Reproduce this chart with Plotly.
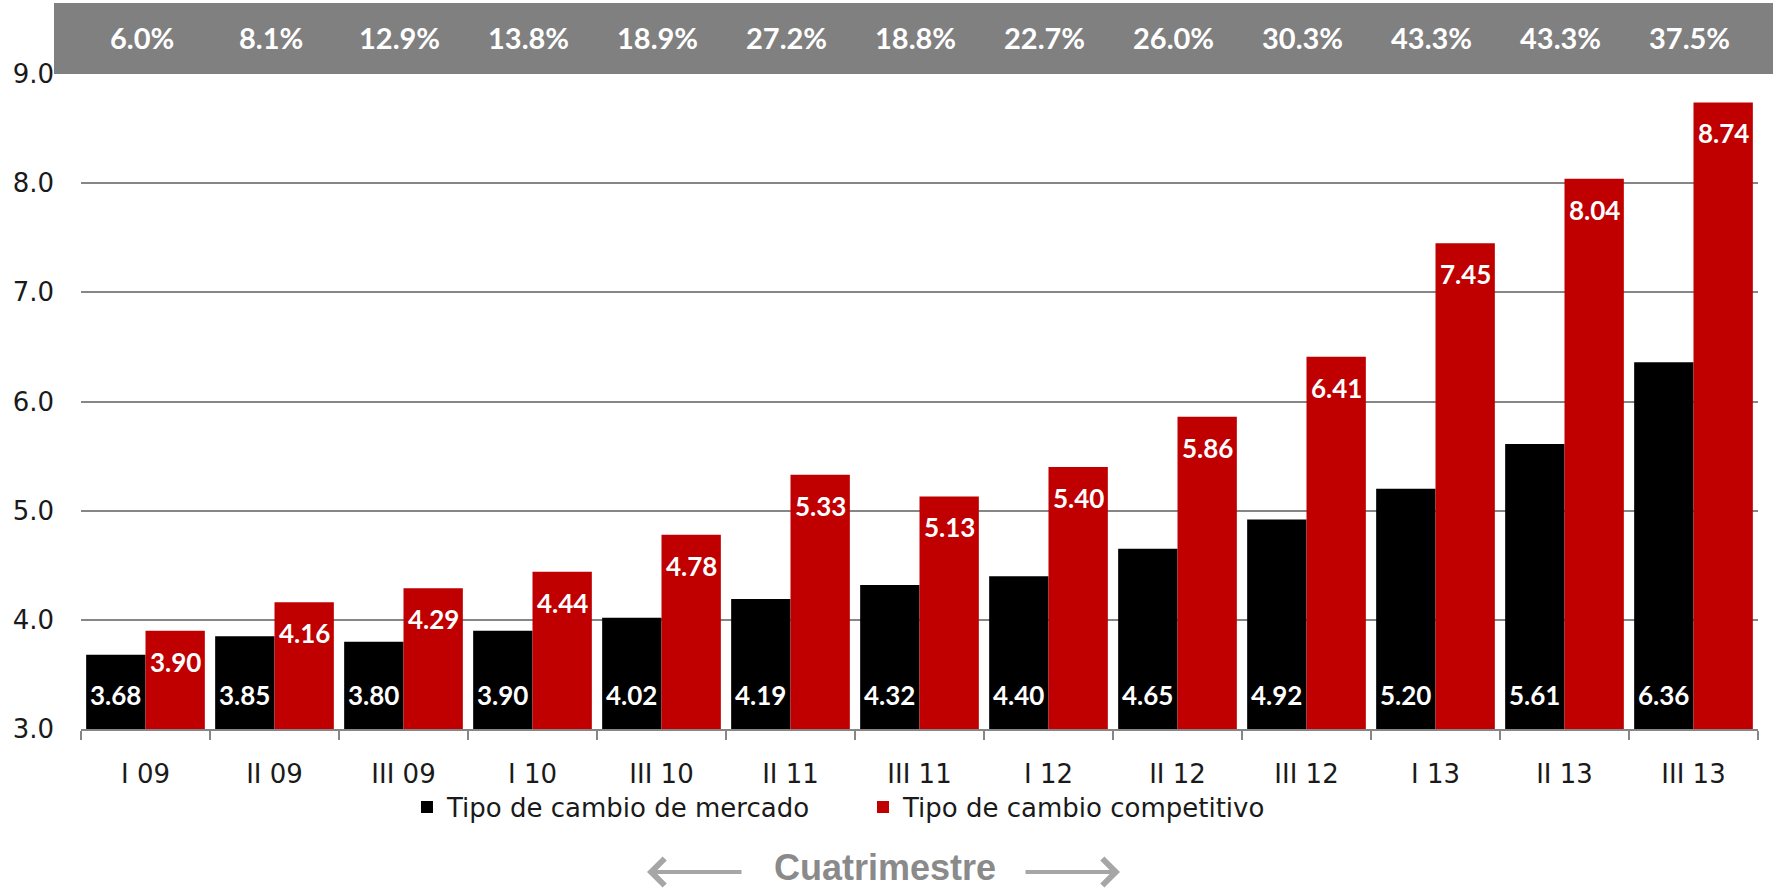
import plotly.graph_objects as go

categories = ["I 09", "II 09", "III 09", "I 10", "III 10", "II 11", "III 11",
              "I 12", "II 12", "III 12", "I 13", "II 13", "III 13"]
mercado = [3.68, 3.85, 3.80, 3.90, 4.02, 4.19, 4.32, 4.40, 4.65, 4.92, 5.20, 5.61, 6.36]
competitivo = [3.90, 4.16, 4.29, 4.44, 4.78, 5.33, 5.13, 5.40, 5.86, 6.41, 7.45, 8.04, 8.74]
brecha = ["6.0%", "8.1%", "12.9%", "13.8%", "18.9%", "27.2%", "18.8%", "22.7%",
          "26.0%", "30.3%", "43.3%", "43.3%", "37.5%"]

W, H = 1773, 890
ML, MR, MT, MB = 81, 15, 74, 161
PW = W - ML - MR
PH = H - MT - MB
BARGAP = 0.08
cat_px = PW / len(categories)
bar_px = cat_px * (1 - BARGAP) / 2

FONT = "'DejaVu Sans', sans-serif"
LABEL_FONT = "Lato, 'Open Sans', sans-serif"
BLACK = "#000000"
RED = "#C00000"
GREY = "#808080"
TXT = "#1a1a1a"

fig = go.Figure()
fig.add_trace(go.Bar(x=categories, y=[v - 3 for v in mercado], base=3,
                     name="Tipo de cambio de mercado", marker_color=BLACK,
                     marker_line_width=0, hoverinfo="skip"))
fig.add_trace(go.Bar(x=categories, y=[v - 3 for v in competitivo], base=3,
                     name="Tipo de cambio competitivo", marker_color=RED,
                     marker_line_width=0, hoverinfo="skip"))

annotations = []
for c, m, r, p in zip(categories, mercado, competitivo, brecha):
    annotations.append(dict(x=c, y=3, xref="x", yref="y", text=f"{m:.2f}",
                            showarrow=False, xshift=-bar_px / 2, yshift=34,
                            font=dict(family=LABEL_FONT, size=26, color="white", weight="bold")))
    annotations.append(dict(x=c, y=r, xref="x", yref="y", text=f"{r:.2f}",
                            showarrow=False, xshift=bar_px / 2, yshift=-31,
                            font=dict(family=LABEL_FONT, size=26, color="white", weight="bold")))
    annotations.append(dict(x=c, y=1 + 36 / PH, xref="x", yref="paper", text=p,
                            showarrow=False, yanchor="middle", xshift=-4,
                            font=dict(family=LABEL_FONT, size=29, color="white", weight="bold")))

y_arrow = -(872 - (MT + PH)) / PH
y_title = -(867 - (MT + PH)) / PH
annotations.append(dict(x=(647 - ML) / PW, y=y_arrow, xref="paper", yref="paper",
                        ax=96, ay=0, text="", showarrow=True, arrowhead=4,
                        arrowsize=1.3, arrowwidth=4, arrowcolor="#a6a6a6"))
annotations.append(dict(x=(1120 - ML) / PW, y=y_arrow, xref="paper", yref="paper",
                        ax=-96, ay=0, text="", showarrow=True, arrowhead=4,
                        arrowsize=1.3, arrowwidth=4, arrowcolor="#a6a6a6"))
annotations.append(dict(x=(885 - ML) / PW, y=y_title, xref="paper", yref="paper",
                        text="Cuatrimestre", showarrow=False, yanchor="middle",
                        borderpad=0,
                        font=dict(family="Liberation Sans, Arial, sans-serif", size=36,
                                  color="#8a8a8a", weight="bold")))

shapes = [dict(type="rect", xref="paper", yref="paper",
               x0=(54 - ML) / PW, x1=(W - ML) / PW,
               y0=1.0, y1=1 + (MT - 3) / PH,
               fillcolor=GREY, line=dict(width=0), layer="above")]

fig.update_layout(
    width=W, height=H,
    margin=dict(l=ML, r=MR, t=MT, b=MB),
    barmode="group", bargap=BARGAP, bargroupgap=0,
    plot_bgcolor="white", paper_bgcolor="white",
    font=dict(family=FONT, size=26, color=TXT),
    showlegend=True,
    legend=dict(orientation="h", x=(863 - ML) / PW, xanchor="center",
                y=-(807 - (MT + PH)) / PH, yanchor="middle",
                font=dict(family=FONT, size=26, color=TXT),
                itemwidth=30, traceorder="normal",
                entrywidth=411, entrywidthmode="pixels"),
    annotations=annotations,
    shapes=shapes,
    xaxis=dict(type="category", showgrid=False, showline=True, linecolor="#868686",
               linewidth=2, ticks="outside", tickson="boundaries", ticklen=9,
               tickwidth=2, tickcolor="#868686", ticklabelstandoff=21,
               tickfont=dict(family=FONT, size=26, color=TXT)),
    yaxis=dict(range=[3, 9], dtick=1, tickformat=".1f", showgrid=True,
               gridcolor="#868686", gridwidth=2, showline=False, zeroline=False,
               ticks="", ticklabelstandoff=26,
               tickfont=dict(family=FONT, size=26, color=TXT)),
)

fig.write_html("out.html",
               config={"displayModeBar": False},
               post_script="document.body.style.margin='0';document.body.style.overflow='hidden';")
